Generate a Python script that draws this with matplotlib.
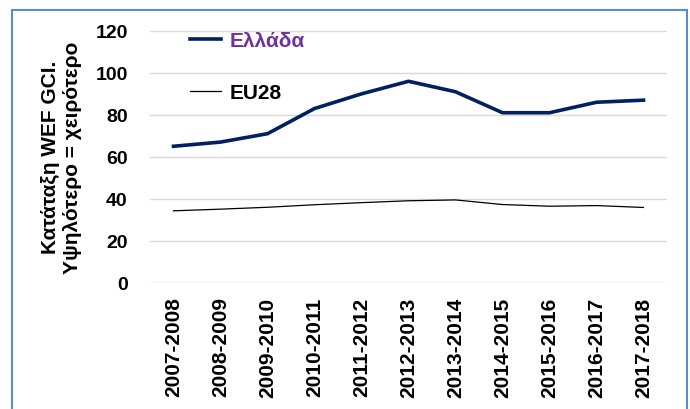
import numpy as np
import matplotlib.pyplot as plt
from matplotlib.patches import Rectangle

plt.rcParams['font.family'] = ['Liberation Sans', 'DejaVu Sans']

seasons = ['2007-2008', '2008-2009', '2009-2010', '2010-2011', '2011-2012',
           '2012-2013', '2013-2014', '2014-2015', '2015-2016', '2016-2017',
           '2017-2018']
greece = [65, 67, 71, 83, 90, 96, 91, 81, 81, 86, 87]
eu28 = [34.2, 35.0, 35.9, 37.1, 38.1, 39.0, 39.4, 37.2, 36.4, 36.7, 35.8]

fig = plt.figure(figsize=(6.9, 4.1), dpi=100)
ax = fig.add_axes([0.2174, 0.3085, 0.7493, 0.6135])

x = np.arange(len(seasons))
ax.plot(x, greece, color='#002060', lw=2.6, label='Ελλάδα')
ax.plot(x, eu28, color='black', lw=0.9, label='EU28')

ax.set_xlim(-0.5, len(seasons) - 0.5)
ax.set_ylim(0, 120)
ax.set_yticks(range(0, 121, 20))
ax.set_xticks(x)
ax.set_xticklabels(seasons, rotation=90, fontsize=15, fontweight='bold')
for t in ax.get_yticklabels():
    t.set_fontsize(14)
    t.set_fontweight('bold')
ax.tick_params(axis='both', length=0)
ax.tick_params(axis='y', pad=16)
ax.tick_params(axis='x', pad=10)
ax.grid(axis='y', color='#D9D9D9', lw=1)
ax.set_axisbelow(True)
for s in ax.spines.values():
    s.set_visible(False)

ax.set_ylabel('Κατάταξη WEF GCI.\nΥψηλότερο = χειρότερο', fontsize=15,
              fontweight='bold')
ax.yaxis.set_label_coords(-0.1315, 0.5)

leg = ax.legend(loc='upper left', bbox_to_anchor=(0.077, 1.0), frameon=False,
                fontsize=15, borderaxespad=0, borderpad=0, labelspacing=1.6,
                handlelength=1.5, handletextpad=0.4)
for t in leg.get_texts():
    t.set_fontweight('bold')
leg.get_texts()[0].set_color('#7030A0')

fig.patches.append(Rectangle((12 / 690, -0.02), 675 / 690, 1.02 - 11 / 410,
                             transform=fig.transFigure, fill=False,
                             edgecolor='#5B8BD0', lw=1.5))

fig.savefig('out.png', dpi=100)
